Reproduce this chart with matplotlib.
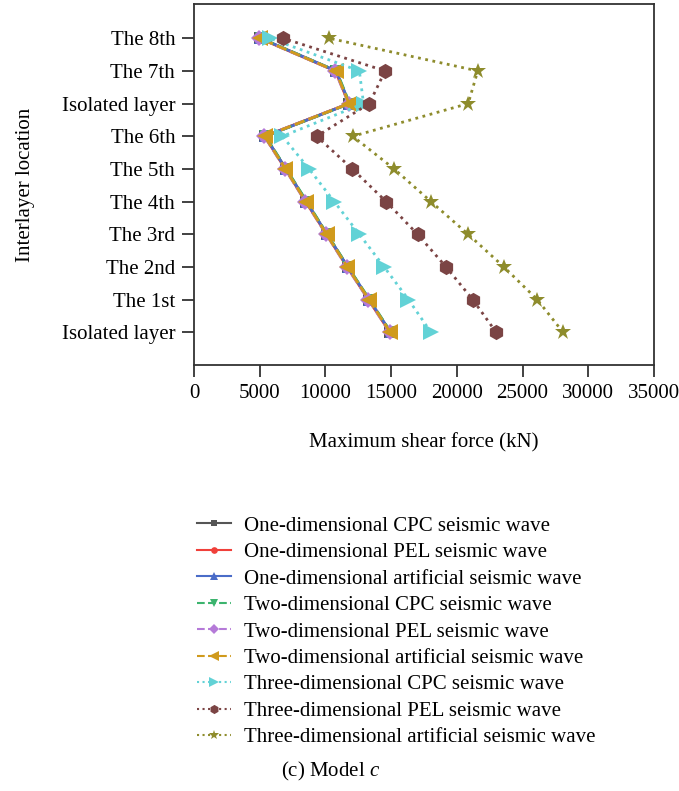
import numpy as np
import matplotlib
matplotlib.use('Agg')
import matplotlib.pyplot as plt

plt.rcParams['font.family'] = ['Liberation Serif', 'DejaVu Serif']
plt.rcParams['mathtext.fontset'] = 'custom'
plt.rcParams['mathtext.it'] = 'Liberation Serif:italic'
plt.rcParams['mathtext.rm'] = 'Liberation Serif'

# layers, bottom to top
layers = ['Isolated layer', 'The 1st', 'The 2nd', 'The 3rd', 'The 4th',
          'The 5th', 'The 6th', 'Isolated layer', 'The 7th', 'The 8th']

one_cpc = [14950, 13300, 11700, 10100, 8550, 7000, 5400, 11800, 10800, 5050]
one_pel = [14900, 13280, 11650, 10080, 8500, 6950, 5370, 11780, 10760, 5000]
one_art = [14960, 13340, 11690, 10120, 8540, 6980, 5420, 11820, 10820, 5060]
two_cpc = [14980, 13360, 11720, 10140, 8580, 7020, 5440, 11850, 10840, 5100]
two_pel = [14890, 13270, 11630, 10060, 8480, 6930, 5350, 11760, 10740, 4980]
two_art = [14925, 13320, 11665, 10090, 8510, 6960, 5380, 11795, 10780, 5000]
three_cpc = [18030, 16320, 14470, 12580, 10670, 8760, 6730, 12900, 12580, 5760]
three_pel = [22990, 21210, 19180, 17010, 14620, 12050, 9330, 13340, 14540, 6780]
three_art = [28080, 26120, 23580, 20860, 18030, 15230, 12080, 20860, 21590, 10290]

labels = ['One-dimensional CPC seismic wave', 'One-dimensional PEL seismic wave',
          'One-dimensional artificial seismic wave', 'Two-dimensional CPC seismic wave',
          'Two-dimensional PEL seismic wave', 'Two-dimensional artificial seismic wave',
          'Three-dimensional CPC seismic wave', 'Three-dimensional PEL seismic wave',
          'Three-dimensional artificial seismic wave']

series = [one_cpc, one_pel, one_art, two_cpc, two_pel, two_art,
          three_cpc, three_pel, three_art]
colors = ['#555555', '#f0403a', '#4a6cc8', '#3cb46e', '#b57ad8', '#d09a1c',
          '#62d2d6', '#7b4444', '#8e8c2c']
markers = ['s', 'o', '^', 'v', 'D', '<', '>', 'h', '*']
styles = ['-', '-', '-', '--', '--', '--', ':', ':', ':']
msizes = [8, 8, 9, 9, 8, 12, 11, 11, 12]

fig = plt.figure(figsize=(6.79, 7.91), dpi=100)
ax = fig.add_axes([0.2857, 0.5386, 0.6775, 0.4564])

y = np.arange(len(layers))
handles = []
for vals, c, m, ls, ms, lab in zip(series, colors, markers, styles, msizes, labels):
    h, = ax.plot(vals, y, linestyle=ls, color=c, marker=m, markersize=ms,
                 markeredgewidth=0, linewidth=2, label=lab)
    handles.append(h)

ax.set_xlim(0, 35000)
ax.set_ylim(-1, 10.05)
ax.set_xticks(np.arange(0, 35001, 5000))
ax.set_yticks(y)
ax.set_yticklabels(layers)
ax.tick_params(labelsize=15, color='#333333', width=1.3, length=8.5, pad=5)
for s in ax.spines.values():
    s.set_color('#333333')
    s.set_linewidth(1.3)
ax.set_xlabel('Maximum shear force (kN)', fontsize=15, labelpad=22)
ax.set_ylabel('Interlayer location', fontsize=15, labelpad=19)

leg = fig.legend(handles=handles, loc='upper left', bbox_to_anchor=(0.278, 0.358),
                 frameon=False, fontsize=15, markerscale=0.6, handlelength=1.65,
                 labelspacing=0.33, handletextpad=0.6, borderaxespad=0)
for line in leg.get_lines():
    line.set_linewidth(1.5)

fig.text(0.487, 0.025, r'(c) Model $c$', fontsize=15, ha='center', va='center')

fig.savefig('out.png', dpi=100)
